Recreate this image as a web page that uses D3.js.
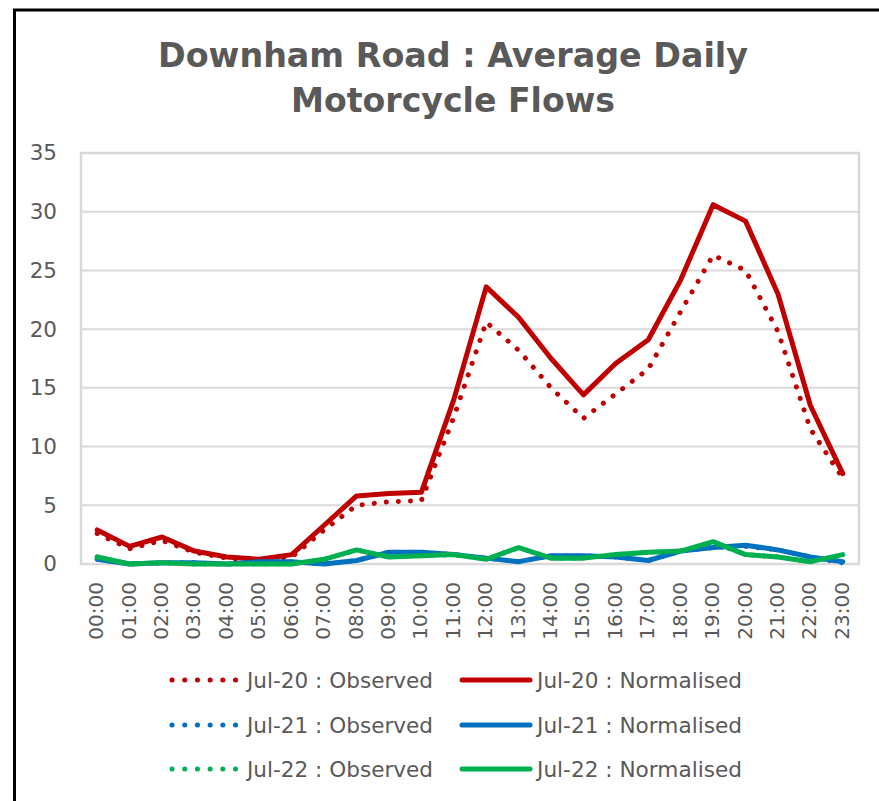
<!DOCTYPE html>
<html>
<head>
<meta charset="utf-8">
<title>Downham Road : Average Daily Motorcycle Flows</title>
<script src="https://cdn.jsdelivr.net/npm/d3@7"></script>
<style>
  body, html { margin: 0; overflow: hidden; background: #fff; }
  text { font-family: "DejaVu Sans", Verdana, sans-serif; fill: #595959; }
  .grid line { stroke: #d9d9d9; stroke-width: 2; }
  .series { fill: none; stroke-linejoin: round; }
</style>
</head>
<body>
<div id="chart"></div>
<script>
// hours along the x axis
var hours = ["00:00","01:00","02:00","03:00","04:00","05:00","06:00","07:00","08:00","09:00","10:00","11:00",
             "12:00","13:00","14:00","15:00","16:00","17:00","18:00","19:00","20:00","21:00","22:00","23:00"];
var yTicks = [0, 5, 10, 15, 20, 25, 30, 35];

// values
var jul20Observed   = [2.6,1.3,2.0,1.0,0.5,0.3,0.6,2.9,5.0,5.3,5.4,12.5,20.6,18.2,15.0,12.4,14.5,16.6,21.5,26.3,25.0,19.8,11.5,7.3];
var jul20Normalised = [2.9,1.5,2.3,1.1,0.6,0.4,0.8,3.3,5.8,6.0,6.1,14.0,23.6,21.0,17.5,14.4,17.1,19.1,24.2,30.6,29.2,23.0,13.5,7.7];
var jul21Observed   = [0.4,0.0,0.1,0.1,0.0,0.2,0.2,0.0,0.3,1.0,1.0,0.8,0.5,0.2,0.7,0.7,0.6,0.3,1.1,1.4,1.5,1.2,0.6,0.1];
var jul21Normalised = [0.4,0.0,0.1,0.1,0.0,0.2,0.2,0.0,0.3,1.0,1.0,0.8,0.5,0.2,0.7,0.7,0.6,0.3,1.1,1.4,1.6,1.2,0.6,0.2];
var jul22Observed   = [0.6,0.0,0.1,0.0,0.0,0.0,0.0,0.4,1.2,0.6,0.7,0.8,0.4,1.4,0.5,0.5,0.8,1.0,1.1,1.8,0.8,0.6,0.2,0.7];
var jul22Normalised = [0.6,0.0,0.1,0.0,0.0,0.0,0.0,0.4,1.2,0.6,0.7,0.8,0.4,1.4,0.5,0.5,0.8,1.0,1.1,1.9,0.8,0.6,0.2,0.8];

var seriesNames = ["Jul-20 : Observed","Jul-20 : Normalised","Jul-21 : Observed","Jul-21 : Normalised","Jul-22 : Observed","Jul-22 : Normalised"];
var seriesValues = [jul20Observed, jul20Normalised, jul21Observed, jul21Normalised, jul22Observed, jul22Normalised];
var seriesColors = ["#c00000","#c00000","#0070c0","#0070c0","#00b050","#00b050"];
var seriesDotted = [true, false, true, false, true, false];

var w = 879, h = 801;
var plot = {left: 81, top: 153, right: 859, bottom: 564};

var svg = d3.select("#chart").append("svg")
  .attr("width", w)
  .attr("height", h);

// chart frame
svg.append("rect")
  .attr("x", 14.5).attr("y", 10)
  .attr("width", 900).attr("height", 900)
  .attr("fill", "#fff")
  .attr("stroke", "#000")
  .attr("stroke-width", 3);

// title
var title = svg.append("text")
  .attr("text-anchor", "middle")
  .attr("font-weight", "bold")
  .attr("font-size", 33);
title.append("tspan").attr("x", 453).attr("y", 67).text("Downham Road : Average Daily")
  .attr("textLength", 590).attr("lengthAdjust", "spacingAndGlyphs");
title.append("tspan").attr("x", 453).attr("y", 112).text("Motorcycle Flows")
  .attr("textLength", 324).attr("lengthAdjust", "spacingAndGlyphs");

var x = d3.scaleBand()
  .domain(hours)
  .range([plot.left, plot.right]);

var y = d3.scaleLinear()
  .domain([0, 35])
  .range([plot.bottom, plot.top]);

// gridlines
svg.append("g").attr("class", "grid")
  .selectAll("line").data(yTicks)
  .enter().append("line")
  .attr("x1", plot.left).attr("x2", plot.right)
  .attr("y1", function (d) { return y(d); })
  .attr("y2", function (d) { return y(d); });

// plot area border
svg.append("rect")
  .attr("x", plot.left).attr("y", plot.top)
  .attr("width", plot.right - plot.left)
  .attr("height", plot.bottom - plot.top)
  .attr("fill", "none")
  .attr("stroke", "#d9d9d9")
  .attr("stroke-width", 2.5);

// y axis
var yAxis = svg.append("g")
  .attr("transform", "translate(" + plot.left + ",0)")
  .call(d3.axisLeft(y).tickValues(yTicks).tickSize(0).tickPadding(24));
yAxis.select(".domain").remove();
yAxis.selectAll("text").attr("font-size", 21.5).attr("fill", "#595959")
  .attr("font-family", "DejaVu Sans, sans-serif");

// x axis (labels rotated)
var xAxis = svg.append("g")
  .attr("transform", "translate(0," + plot.bottom + ")")
  .call(d3.axisBottom(x).tickSize(0));
xAxis.select(".domain").remove();
xAxis.selectAll("text")
  .attr("font-size", 20).attr("fill", "#595959")
  .attr("font-family", "DejaVu Sans, sans-serif")
  .attr("transform", "rotate(-90)")
  .attr("text-anchor", "end")
  .attr("x", -18)
  .attr("y", -1)
  .attr("dy", "0.35em");

var line = d3.line()
  .x(function (d, i) { return x(hours[i]) + x.bandwidth() / 2; })
  .y(function (d) { return y(d); });

// series
seriesValues.forEach(function (vals, i) {
  var p = svg.append("path")
    .datum(vals)
    .attr("class", "series")
    .attr("d", line)
    .attr("stroke", seriesColors[i])
    .attr("stroke-linecap", "round");
  if (seriesDotted[i]) {
    p.attr("stroke-width", 5)
      .attr("stroke-dasharray", "0.1 12");
  } else {
    p.attr("stroke-width", 5);
  }
});

// legend
var legendRows = [680, 725, 769];
seriesNames.forEach(function (name, i) {
  var row = Math.floor(i / 2);
  var ly = legendRows[row];
  var g = svg.append("g");
  if (seriesDotted[i]) {
    g.append("line")
      .attr("x1", 172).attr("x2", 236)
      .attr("y1", ly).attr("y2", ly)
      .attr("stroke", seriesColors[i])
      .attr("stroke-width", 5)
      .attr("stroke-linecap", "round")
      .attr("stroke-dasharray", "0.1 12.6");
    g.append("text")
      .attr("x", 247).attr("y", ly)
      .attr("dy", "0.36em")
      .attr("font-size", 22)
      .attr("textLength", 186)
      .attr("lengthAdjust", "spacingAndGlyphs")
      .text(name);
  } else {
    g.append("line")
      .attr("x1", 462).attr("x2", 530)
      .attr("y1", ly).attr("y2", ly)
      .attr("stroke", seriesColors[i])
      .attr("stroke-width", 5)
      .attr("stroke-linecap", "round");
    g.append("text")
      .attr("x", 537).attr("y", ly)
      .attr("dy", "0.36em")
      .attr("font-size", 22)
      .attr("textLength", 205)
      .attr("lengthAdjust", "spacingAndGlyphs")
      .text(name);
  }
});
</script>
</body>
</html>
